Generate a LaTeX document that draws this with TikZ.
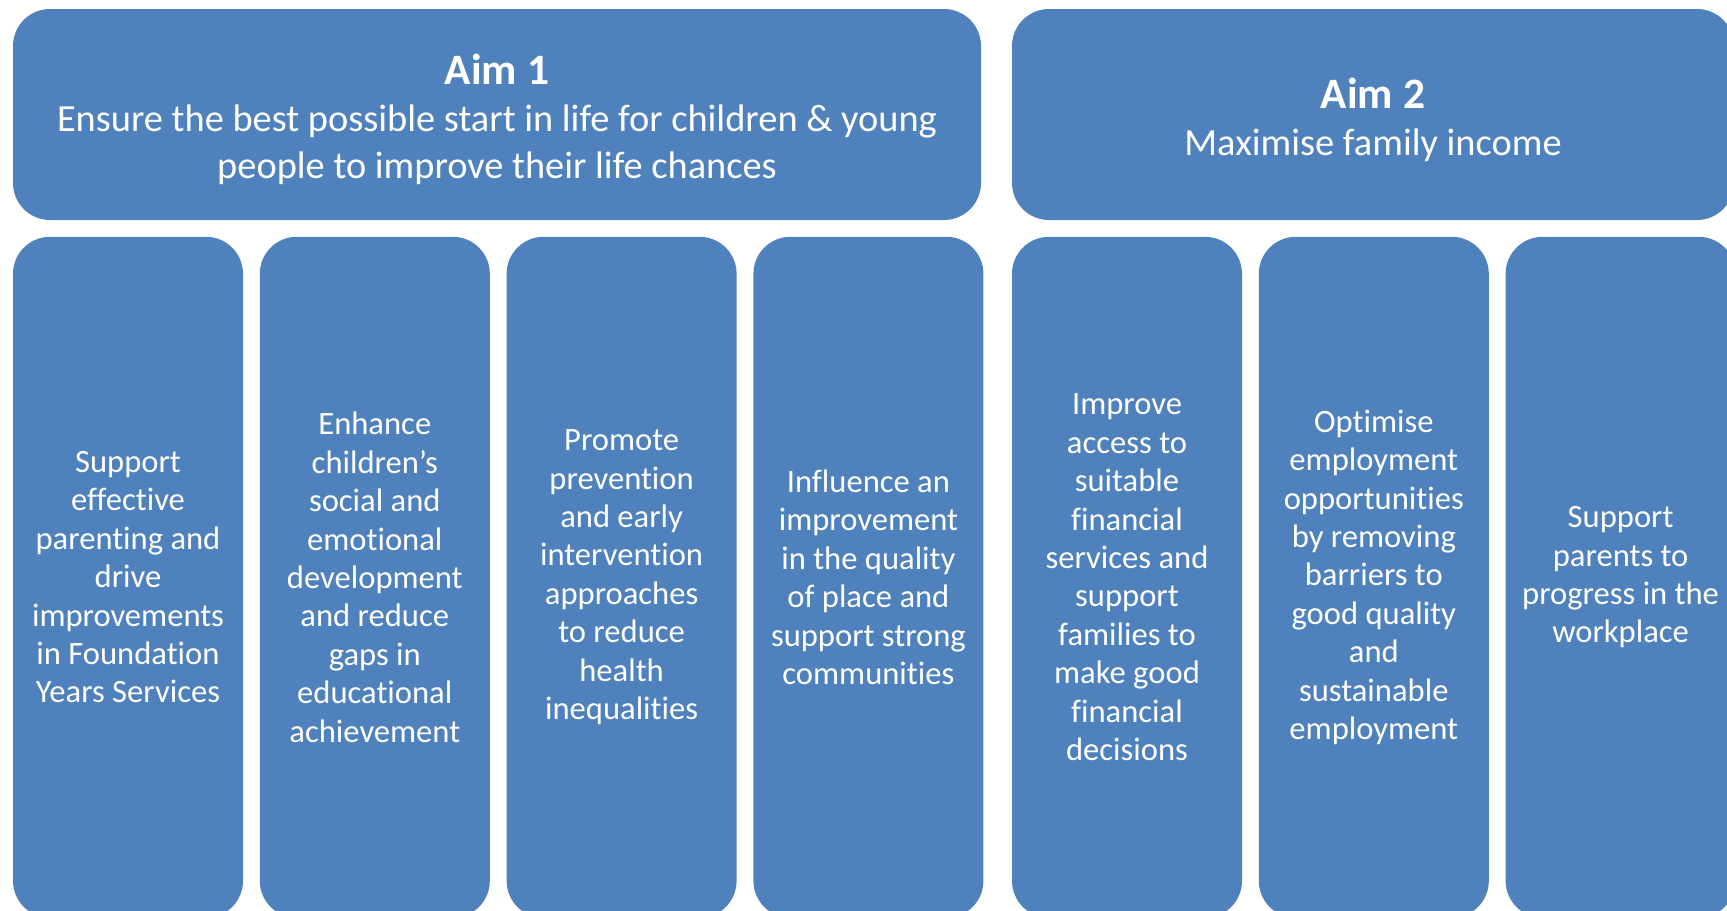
\documentclass[tikz,border=0pt]{standalone}
\usepackage{fontspec}
\setmainfont[Ligatures=NoCommon, RawFeature={-liga;-calt}]{Carlito}
\usepackage{xcolor}
\usepackage{tikz}
\usetikzlibrary{positioning}
\definecolor{aimblue}{HTML}{4F81BD}

\begin{document}
\begin{tikzpicture}[x=0.5pt, y=-0.5pt,
        box/.style={fill=aimblue, text=white, rounded corners=18.5pt, inner sep=0pt, align=center},
        aimbox/.style={box, minimum height=105.5pt},
        aimtext/.style={text=white, inner sep=0pt, align=center, font=\fontsize{19.2}{23.5}\selectfont},
        goalbox/.style={box, minimum width=115pt, minimum height=340.5pt, font=\fontsize{16.3}{19.2}\selectfont}]
        \useasboundingbox (0,0) rectangle (1727,910);
        \clip (0,0) rectangle (1727,910);
        \node [aimbox, minimum width=484pt] (a1) at (497,114.5) {};
        \node [aimbox, minimum width=361pt] (a2) at (1373,114.5) {};
        \node [aimtext] (t1) at ([yshift=-2.5pt]a1.center)
            {{\bfseries\fontsize{21.7}{23.5}\selectfont Aim 1}\\
             Ensure the best possible start in life for children \& young\\
             people to improve their life chances};
        \node [aimtext] (t2) at ([yshift=-2.5pt]a2.center)
            {{\bfseries\fontsize{21.7}{23.5}\selectfont Aim 2}\\
             Maximise family income};
        % objectives under aim 1
        \node [goalbox, below right=8pt and 0pt of a1.south west] (g1)
            {Support\\effective\\parenting and\\drive\\improvements\\in Foundation\\Years Services};
        \node [goalbox, right=8pt of g1] (g2)
            {Enhance\\children’s\\social and\\emotional\\development\\and reduce\\gaps in\\educational\\achievement};
        \node [goalbox, right=8pt of g2] (g3)
            {Promote\\prevention\\and early\\intervention\\approaches\\to reduce\\health\\inequalities};
        \node [goalbox, right=8pt of g3] (g4)
            {Influence an\\improvement\\in the quality\\of place and\\support strong\\communities};
        % objectives under aim 2
        \node [goalbox, below right=8pt and 0pt of a2.south west] (g5)
            {Improve\\access to\\suitable\\financial\\services and\\support\\families to\\make good\\financial\\decisions};
        \node [goalbox, right=8pt of g5] (g6)
            {Optimise\\employment\\opportunities\\by removing\\barriers to\\good quality\\and\\sustainable\\employment};
        \node [goalbox, right=8pt of g6] (g7)
            {Support\\parents to\\progress in the\\workplace};
    \end{tikzpicture}
\end{document}
